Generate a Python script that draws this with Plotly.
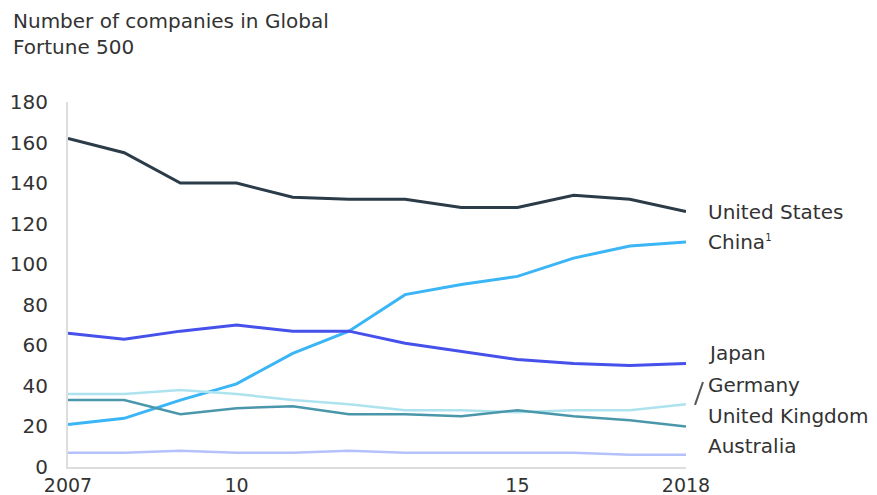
import plotly.graph_objects as go

years = list(range(2007, 2019))
united_states = [162, 155, 140, 140, 133, 132, 132, 128, 128, 134, 132, 126]
china = [21, 24, 33, 41, 56, 67, 85, 90, 94, 103, 109, 111]
japan = [66, 63, 67, 70, 67, 67, 61, 57, 53, 51, 50, 51]
germany = [36, 36, 38, 36, 33, 31, 28, 28, 27, 28, 28, 31]
united_kingdom = [33, 33, 26, 29, 30, 26, 26, 25, 28, 25, 23, 20]
australia = [7, 7, 8, 7, 7, 8, 7, 7, 7, 7, 6, 6]

series = [
    ("United States", united_states, "#2b3b48", 3),
    ("China<sup><span style='font-size:10px'>1</span></sup>", china, "#3ab5f5", 3),
    ("Japan", japan, "#4650ea", 3),
    ("Germany", germany, "#ade3ef", 2.5),
    ("United Kingdom", united_kingdom, "#4a97ab", 2.5),
    ("Australia", australia, "#b3c1fc", 2.5),
]
label_y = [126, 111, 56, 40.5, 25, 10.5]

tick_vals = [2007, 2010, 2015, 2018]
tick_text = ["2007", "10", "15", "2018"]

FONT = "DejaVu Sans, sans-serif"
fig = go.Figure()
for (name, vals, color, w), ly in zip(series, label_y):
    fig.add_trace(go.Scatter(x=years, y=vals, mode="lines", name=name,
                             line=dict(color=color, width=w), cliponaxis=False))
    fig.add_annotation(x=2018, y=ly, xref="x", yref="y", text=name,
                       showarrow=False, xanchor="left", yanchor="middle", xshift=20,
                       font=dict(size=20, color="#333333", family=FONT))

fig.add_shape(type="line", xref="paper", yref="paper",
              x0=1.0146, y0=0.170, x1=1.0275, y1=0.233,
              line=dict(color="#555555", width=2))

fig.add_annotation(x=0, y=1, xref="paper", yref="paper", xanchor="left", yanchor="top",
                   text="Number of companies in Global<br>Fortune 500", showarrow=False,
                   align="left", xshift=-56, yshift=94, borderpad=0,
                   font=dict(size=20, color="#333333", family=FONT))

fig.update_layout(
    width=869, height=487,
    margin=dict(l=60, r=191, t=94, b=28, autoexpand=False),
    paper_bgcolor="white", plot_bgcolor="white",
    showlegend=False,
    font=dict(family=FONT, size=20, color="#333333"),
    xaxis=dict(range=[2007, 2018], tickvals=tick_vals, ticktext=tick_text,
               showgrid=False, zeroline=False, showline=True, linecolor="#dddddd",
               linewidth=2, ticks="", ticklabelstandoff=0, automargin=False,
               tickfont=dict(size=19, color="#333333")),
    yaxis=dict(range=[0, 180], dtick=20, showgrid=False, zeroline=False,
               showline=True, linecolor="#dddddd", linewidth=2, ticks="",
               ticklabelstandoff=14, automargin=False,
               tickfont=dict(size=20, color="#333333")),
)

fig.write_html("out.html")
